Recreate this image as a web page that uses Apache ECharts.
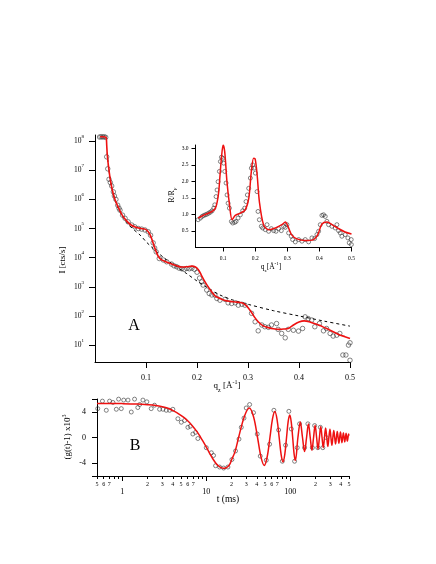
<!DOCTYPE html>
<html><head><meta charset="utf-8">
<script src="https://cdn.jsdelivr.net/npm/echarts@6.0.0/dist/echarts.min.js"></script>
<style>html,body{margin:0;padding:0;background:#fff}#c{width:436px;height:564px}</style>
</head><body><div id="c"></div>
<script>
// ---------- Panel A: specular intensity (log10 of I in cts/s) ----------
var dataQA = [0.009,0.012,0.015,0.018,0.021,0.0229,0.025,0.0275,0.030,0.0327,0.036,0.038,0.041,0.0445,0.047,0.049,0.054,0.059,0.065,0.072,0.078,0.085,0.0915,0.098,0.1045,0.109,0.114,0.117,0.12,0.126,0.134,0.1405,0.150,0.155,0.160,0.165,0.170,0.175,0.180,0.185,0.190,0.195,0.200,0.205,0.209,0.212,0.219,0.224,0.229,0.235,0.239,0.245,0.255,0.261,0.268,0.275,0.281,0.288,0.294,0.307,0.314,0.320,0.327,0.333,0.340,0.346,0.356,0.359,0.366,0.373,0.379,0.389,0.399,0.407,0.412,0.418,0.425,0.431,0.440,0.448,0.454,0.461,0.467,0.474,0.480,0.486,0.492,0.497,0.500,0.5];
var dataLogIA = [8.14,8.15,8.14,8.15,8.13,7.46,7.05,6.69,6.58,6.46,6.26,6.12,6.0,5.8,5.7,5.63,5.46,5.35,5.23,5.12,5.06,5.0,4.98,4.95,4.89,4.77,4.51,4.33,4.2,3.97,3.92,3.86,3.78,3.72,3.69,3.64,3.62,3.60,3.63,3.62,3.64,3.60,3.50,3.30,3.17,3.06,2.89,2.77,2.72,2.72,2.60,2.54,2.57,2.45,2.43,2.45,2.37,2.40,2.37,2.09,1.80,1.49,1.69,1.63,1.61,1.69,1.74,1.54,1.40,1.25,1.54,1.51,1.48,1.57,1.97,1.91,1.86,1.63,1.74,1.49,1.57,1.40,1.31,1.34,1.40,0.66,0.66,1.0,1.08,0.48];
var fitQA = [0.010,0.015,0.020,0.022,0.023,0.024,0.026,0.029,0.033,0.038,0.045,0.053,0.061,0.070,0.080,0.090,0.098,0.104,0.109,0.114,0.119,0.124,0.130,0.140,0.150,0.160,0.170,0.180,0.190,0.197,0.203,0.208,0.214,0.220,0.228,0.236,0.245,0.255,0.265,0.275,0.285,0.292,0.298,0.305,0.312,0.320,0.330,0.340,0.350,0.360,0.370,0.380,0.390,0.400,0.410,0.420,0.430,0.440,0.450,0.460,0.470,0.480,0.490,0.500];
var fitLogIA = [8.15,8.15,8.14,8.12,7.85,7.55,7.2,6.8,6.4,6.05,5.75,5.47,5.28,5.13,5.04,5.0,4.98,4.9,4.75,4.5,4.25,4.05,3.93,3.85,3.78,3.72,3.68,3.69,3.71,3.68,3.58,3.42,3.22,3.05,2.85,2.68,2.6,2.53,2.5,2.48,2.46,2.42,2.33,2.17,1.98,1.8,1.66,1.6,1.56,1.54,1.55,1.58,1.7,1.79,1.83,1.8,1.74,1.68,1.6,1.52,1.43,1.35,1.29,1.23];
var dashQA = [0.024,0.026,0.029,0.033,0.038,0.045,0.053,0.062,0.075,0.090,0.100,0.110,0.120,0.140,0.160,0.180,0.200,0.220,0.245,0.270,0.300,0.350,0.400,0.450,0.500];
var dashLogIA = [7.6,7.2,6.8,6.4,6.05,5.72,5.45,5.22,4.98,4.75,4.55,4.38,4.22,3.93,3.69,3.45,3.2,2.98,2.72,2.55,2.4,2.18,2.0,1.82,1.65];
var tickExpA = [1,2,3,4,5,6,7,8];
var tickQA = [0.1,0.2,0.3,0.4,0.5];

// ---------- Inset: R/R_F ----------
var insetQ = [0.0221,0.0294,0.0346,0.0398,0.0449,0.0501,0.0553,0.0605,0.0657,0.0709,0.074,0.0781,0.0812,0.0844,0.0885,0.0916,0.0947,0.0989,0.102,0.1051,0.1092,0.1123,0.1155,0.1196,0.1258,0.13,0.1362,0.1403,0.1466,0.1538,0.1611,0.1673,0.1714,0.1756,0.1797,0.1849,0.188,0.1922,0.1963,0.2005,0.2057,0.2088,0.2129,0.2191,0.2233,0.2316,0.2368,0.2419,0.2502,0.2575,0.2648,0.273,0.2813,0.2886,0.2938,0.299,0.3041,0.3124,0.3166,0.3249,0.3353,0.3456,0.356,0.3664,0.3767,0.385,0.3923,0.3975,0.4027,0.4079,0.413,0.4182,0.4234,0.4286,0.439,0.4493,0.4545,0.4597,0.4649,0.47,0.4804,0.4887,0.4929,0.4991,0.4995];
var insetR = [0.84,0.89,0.94,0.97,0.99,1.01,1.04,1.07,1.11,1.19,1.29,1.54,1.74,1.99,2.30,2.60,2.73,2.70,2.55,2.30,1.95,1.59,1.34,1.19,0.79,0.74,0.76,0.79,0.89,0.99,1.11,1.19,1.39,1.59,1.79,2.10,2.40,2.50,2.40,2.25,1.69,1.09,0.84,0.64,0.59,0.54,0.69,0.49,0.57,0.51,0.49,0.57,0.51,0.64,0.61,0.69,0.44,0.34,0.24,0.17,0.24,0.19,0.24,0.17,0.29,0.27,0.39,0.49,0.69,0.97,0.99,0.94,0.79,0.69,0.64,0.59,0.69,0.51,0.44,0.34,0.39,0.29,0.14,0.24,0.09];
var insetFitQ = [0.0222,0.03,0.045,0.066,0.076,0.082,0.0864,0.0905,0.0947,0.1,0.105,0.112,0.12,0.128,0.138,0.154,0.169,0.18,0.188,0.195,0.2,0.206,0.213,0.226,0.242,0.263,0.283,0.294,0.302,0.313,0.33,0.356,0.382,0.395,0.408,0.424,0.439,0.46,0.48,0.5];
var insetFitR = [0.89,0.93,1.0,1.09,1.19,1.4,1.69,2.2,2.7,3.1,2.9,1.99,1.29,0.84,0.97,1.04,1.14,1.49,2.3,2.7,2.67,2.2,1.39,0.69,0.54,0.59,0.69,0.77,0.64,0.39,0.26,0.21,0.24,0.39,0.71,0.77,0.69,0.57,0.47,0.41];
var insetTickQ = [0.1,0.2,0.3,0.4,0.5];
var insetTickR = [0.5,1.0,1.5,2.0,2.5,3.0];

// ---------- Panel B: (g(t)-1) x 10^3 vs t (ms) ----------
var tB = [0.51,0.58,0.645,0.706,0.774,0.849,0.904,0.973,1.04,1.17,1.28,1.40,1.53,1.61,1.76,1.96,2.21,2.42,2.78,3.05,3.34,3.66,4.0,4.59,5.04,5.52,6.04,6.45,6.92,7.46,7.94,10,11.5,12.2,12.9,14.4,16.1,18.1,20.2,22.3,24.5,26.1,28.1,29.9,32.8,36.5,40.4,43.9,51.8,56.7,63.8,72.6,80.4,87.9,96.2,102.8,112.5,121,129,148,162,183,195,213,228,244,268];
var gB = [4.5,5.67,4.24,5.67,5.46,4.4,5.98,4.5,5.83,5.83,3.97,5.98,4.67,5.14,5.83,5.56,4.5,5.03,4.4,4.4,4.24,4.24,4.4,2.92,2.38,2.65,1.59,1.75,0.54,0.8,-0.16,-1.59,-2.38,-2.8,-4.4,-4.6,-4.76,-4.6,-3.43,-2.1,-0.25,1.59,3.02,4.6,5.14,3.87,0.54,-2.9,-3.54,-1.05,4.24,1.17,-3.7,-1.2,4.08,1.33,-3.7,-1.59,2.13,-1.59,2.13,-1.59,1.86,-1.59,1.59,-1.59,0];
var fitTB = [0.5,0.7,1,1.5,2,2.5,3,3.5,4,4.5,5,5.5,6,6.5,7,7.5,8,8.5,9,10,11,12,13,14,15,16,17,18,19,20.125,22,24.25,28.4,32.5,36.6,40.75,44.9,49,53.1,57.25,61.4,65.5,69.6,73.75,77.9,82,86.1,90.25,94.4,98.5,102.6,106.75,110.9,115,123.25,131.5,139.75,148,156.25,164.5,172.75,181,189.25,197.5,205.75,214,222.25,230.5,238.75,247,255.25,263.5,271.75,280,288.25,296.5,304.75,313,321.25,329.5,337.75,346,354.25,362.5,370.75,379,387.25,395.5,403.75,412,420.25,428.5,436.75,445,453.25,461.5,469.75,478,486.25,494.5,500];
var fitGB = [5.3,5.3,5.28,5.22,5.12,5.0,4.8,4.55,4.2,3.85,3.45,3.05,2.6,2.15,1.65,1.15,0.65,0.1,-0.45,-1.5,-2.5,-3.35,-4.0,-4.45,-4.7,-4.8,-4.75,-4.55,-4.2,-3.4,-2.2,0,3.29,4.6,3.2,0,-3.1,-4.35,-3.0,0,2.9,4.05,2.8,0,-2.7,-3.8,-2.6,0,2.5,3.5,2.45,0,-2.5,-3.6,0,2.4,0,-2.2,0,2.1,0,-2.0,0,1.9,0,-1.8,0,1.7,0,-1.6,0,1.5,0,-1.4,0,1.3,0,-1.2,0,1.1,0,-1.0,0,0.95,0,-0.9,0,0.85,0,-0.8,0,0.75,0,-0.7,0,0.65,0,-0.6,0,0.55,0.3];
var minorTickT = [0.5,0.6,0.7,0.8,0.9,2,3,4,5,6,7,8,9,20,30,40,50,60,70,80,90,200,300,400,500];
var minorLabelT = [0.5,0.6,0.7,2,3,4,5,6,7,20,30,40,50,60,70,200,300,400,500];
var majorT = [1,10,100];
var tickGB = [-6,-4,0,4,6];
var labelGB = [-4,0,4];

// ---------- build ----------
var FF = "'Liberation Serif','DejaVu Serif',serif";
function zip(a, b, f) { return a.map(function (v, i) { return [v, f ? f(b[i]) : b[i]]; }); }
function pow10(e) { return Math.pow(10, e); }
var lineStyleAxis = { color: '#000', width: 1 };
function lead(v) { var e = Math.floor(Math.log10(v) + 1e-9); return String(Math.round(v / Math.pow(10, e))); }

var chart = echarts.init(document.getElementById('c'), null, { renderer: 'canvas' });
var circle = { color: 'rgba(0,0,0,0)', borderColor: '#333', borderWidth: 0.75 };

var option = {
  backgroundColor: '#fff',
  animation: false,
  grid: [
    { left: 95, top: 135, width: 255, height: 227 },
    { left: 195.5, top: 145, width: 156, height: 102.5 },
    { left: 97, top: 399, width: 252, height: 77 }
  ],
  xAxis: [
    { gridIndex: 0, type: 'value', min: 0, max: 0.5, position: 'bottom',
      axisLine: { lineStyle: lineStyleAxis, onZero: false },
      axisTick: { length: 6, customValues: tickQA, lineStyle: lineStyleAxis },
      axisLabel: { customValues: tickQA, margin: 12, fontSize: 8, fontFamily: FF, color: '#000' },
      splitLine: { show: false } },
    { gridIndex: 1, type: 'value', min: 0.014, max: 0.5, position: 'bottom',
      axisLine: { lineStyle: lineStyleAxis, onZero: false },
      axisTick: { length: 4, customValues: insetTickQ, lineStyle: lineStyleAxis },
      axisLabel: { customValues: insetTickQ, margin: 8, fontSize: 5.5, fontFamily: FF, color: '#000' },
      splitLine: { show: false } },
    { gridIndex: 2, type: 'log', logBase: 10, min: 0.5, max: 500, position: 'bottom',
      axisLine: { lineStyle: lineStyleAxis, onZero: false },
      axisTick: { length: 3, customValues: minorTickT, lineStyle: lineStyleAxis },
      axisLabel: { customValues: minorLabelT, margin: 5, fontSize: 6, fontFamily: FF, color: '#000', formatter: function (v) { return lead(v); } },
      splitLine: { show: false } },
    { gridIndex: 2, type: 'log', logBase: 10, min: 0.5, max: 500, position: 'bottom',
      axisLine: { show: false, onZero: false },
      axisTick: { length: 5, customValues: majorT, lineStyle: lineStyleAxis },
      axisLabel: { customValues: majorT, margin: 12, fontSize: 8, fontFamily: FF, color: '#000', formatter: function (v) { return String(Math.round(v)); } },
      splitLine: { show: false } }
  ],
  yAxis: [
    { gridIndex: 0, type: 'log', logBase: 10, min: pow10(0.42), max: pow10(8.21),
      axisLine: { lineStyle: lineStyleAxis, onZero: false },
      axisTick: { length: 6, customValues: tickExpA.map(pow10), lineStyle: lineStyleAxis },
      axisLabel: { customValues: tickExpA.map(pow10), margin: 11, fontFamily: FF, color: '#000',
        formatter: function (v) { return '{b|10}{s|' + Math.round(Math.log10(v)) + '}'; },
        rich: { b: { fontSize: 7.5, fontFamily: FF, color: '#000', lineHeight: 14 },
                s: { fontSize: 5, fontFamily: FF, color: '#000', lineHeight: 14, verticalAlign: 'top' } } },
      splitLine: { show: false } },
    { gridIndex: 1, type: 'value', min: 0, max: 3.1,
      axisLine: { lineStyle: lineStyleAxis, onZero: false },
      axisTick: { length: 4, customValues: insetTickR, lineStyle: lineStyleAxis },
      axisLabel: { customValues: insetTickR, margin: 7, fontSize: 5.5, fontFamily: FF, color: '#000', formatter: function (v) { return v.toFixed(1); } },
      splitLine: { show: false } },
    { gridIndex: 2, type: 'value', min: -6, max: 6,
      axisLine: { lineStyle: lineStyleAxis, onZero: false },
      axisTick: { length: 5, customValues: tickGB, lineStyle: lineStyleAxis },
      axisLabel: { customValues: labelGB, margin: 11, fontSize: 8, fontFamily: FF, color: '#000' },
      splitLine: { show: false } }
  ],
  series: [
    { type: 'scatter', xAxisIndex: 0, yAxisIndex: 0, symbol: 'circle', symbolSize: 4.5, itemStyle: circle,
      data: zip(dataQA, dataLogIA, pow10), z: 2 },
    { type: 'line', xAxisIndex: 0, yAxisIndex: 0, showSymbol: false, smooth: 0.3,
      lineStyle: { color: '#000', width: 1, type: [3, 3] }, data: zip(dashQA, dashLogIA, pow10), z: 3 },
    { type: 'line', xAxisIndex: 0, yAxisIndex: 0, showSymbol: false, smooth: 0.3,
      lineStyle: { color: '#ee1111', width: 1.6 }, data: zip(fitQA, fitLogIA, pow10), z: 4 },
    { type: 'scatter', xAxisIndex: 1, yAxisIndex: 1, symbol: 'circle', symbolSize: 4, itemStyle: circle,
      data: zip(insetQ, insetR), z: 2 },
    { type: 'line', xAxisIndex: 1, yAxisIndex: 1, showSymbol: false, smooth: 0.3,
      lineStyle: { color: '#ee1111', width: 1.5 }, data: zip(insetFitQ, insetFitR), z: 4 },
    { type: 'scatter', xAxisIndex: 2, yAxisIndex: 2, symbol: 'circle', symbolSize: 4, itemStyle: circle,
      data: zip(tB, gB), z: 2 },
    { type: 'line', xAxisIndex: 2, yAxisIndex: 2, showSymbol: false, smooth: 0.35,
      lineStyle: { color: '#ee1111', width: 1.5 }, data: zip(fitTB, fitGB), z: 4 }
  ],
  graphic: [
    { type: 'text', x: 134, y: 326, style: { text: 'A', font: "16px " + FF, fill: '#000', align: 'center', verticalAlign: 'middle' } },
    { type: 'text', x: 135, y: 446, style: { text: 'B', font: "16px " + FF, fill: '#000', align: 'center', verticalAlign: 'middle' } },
    { type: 'text', x: 63, y: 260, rotation: Math.PI / 2,
      style: { text: 'I [cts/s]', font: "9px " + FF, fill: '#000', align: 'center', verticalAlign: 'middle' } },
    { type: 'text', x: 227, y: 386,
      style: { text: '{a|q}{d|z}{a| [Å}{u|-1}{a|]}', align: 'center', verticalAlign: 'middle',
        rich: { a: { fontSize: 9, fontFamily: FF, fill: '#000', lineHeight: 14 },
                d: { fontSize: 6, fontFamily: FF, fill: '#000', lineHeight: 14, verticalAlign: 'bottom' },
                u: { fontSize: 6, fontFamily: FF, fill: '#000', lineHeight: 14, verticalAlign: 'top' } } } },
    { type: 'text', x: 271, y: 267,
      style: { text: '{a|q}{d|z}{a|[Å}{u|-1}{a|]}', align: 'center', verticalAlign: 'middle',
        rich: { a: { fontSize: 7.5, fontFamily: FF, fill: '#000', lineHeight: 12 },
                d: { fontSize: 5, fontFamily: FF, fill: '#000', lineHeight: 12, verticalAlign: 'bottom' },
                u: { fontSize: 5, fontFamily: FF, fill: '#000', lineHeight: 12, verticalAlign: 'top' } } } },
    { type: 'text', x: 172, y: 195, rotation: Math.PI / 2,
      style: { text: '{a|R/R}{d|F}', align: 'center', verticalAlign: 'middle',
        rich: { a: { fontSize: 7.5, fontFamily: FF, fill: '#000', lineHeight: 12 },
                d: { fontSize: 5, fontFamily: FF, fill: '#000', lineHeight: 12, verticalAlign: 'bottom' } } } },
    { type: 'text', x: 68, y: 437, rotation: Math.PI / 2,
      style: { text: '{a|(g(t)-1) x10}{u|3}', align: 'center', verticalAlign: 'middle',
        rich: { a: { fontSize: 9, fontFamily: FF, fill: '#000', lineHeight: 14 },
                u: { fontSize: 6, fontFamily: FF, fill: '#000', lineHeight: 14, verticalAlign: 'top' } } } },
    { type: 'text', x: 228, y: 499,
      style: { text: 't (ms)', font: "9.5px " + FF, fill: '#000', align: 'center', verticalAlign: 'middle' } }
  ]
};
chart.setOption(option);
</script></body></html>
